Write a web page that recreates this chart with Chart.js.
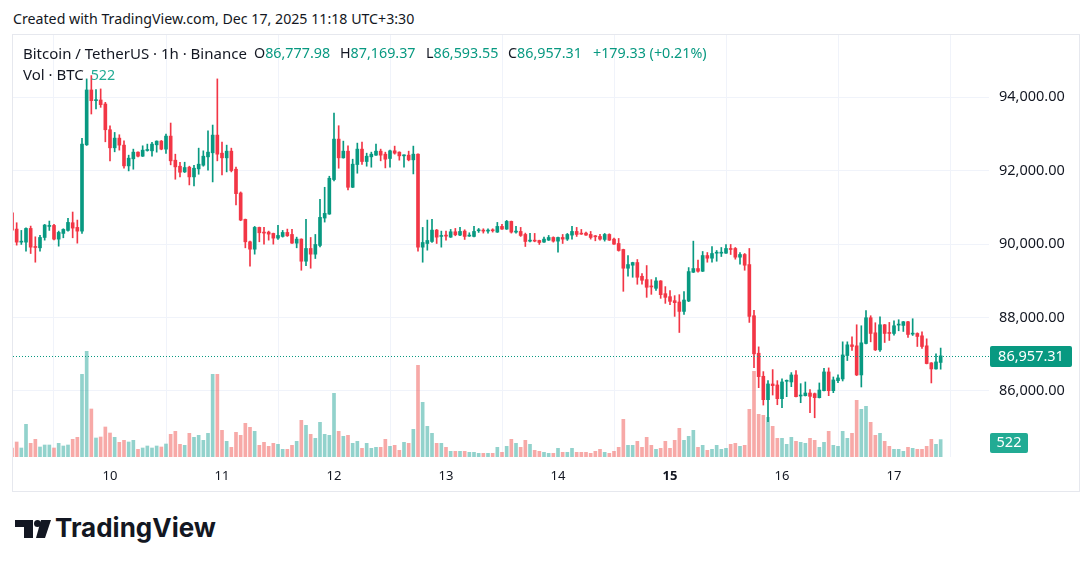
<!DOCTYPE html>
<html>
<head>
<meta charset="utf-8">
<script src="https://cdn.jsdelivr.net/npm/chart.js@4.4.0/dist/chart.umd.min.js"></script>
<style>
  body { margin:0; width:1092px; height:567px; background:#fff; position:relative; overflow:hidden;
         font-family:"Noto Sans", sans-serif; color:#131722; }
  #head { position:absolute; left:13px; top:9px; font-size:14.2px; white-space:nowrap; color:#131722; }
  #box { position:absolute; left:12px; top:34px; width:1066px; height:456px; border:1px solid #e6e8ee; }
  #box canvas { position:absolute; left:0; top:0; }
  .lg { position:absolute; font-size:14.3px; line-height:18px; white-space:nowrap; z-index:2; }
  .v { color:#089981; }
  #logo { position:absolute; left:15px; top:514px; height:32px; }
  #logo span { position:absolute; left:40px; top:-2px; font-family:Inter, sans-serif; font-weight:700;
               font-size:26px; letter-spacing:0px; color:#131722; }
</style>
</head>
<body>
<div id="head">Created with TradingView.com, Dec 17, 2025 11:18 UTC+3:30</div>
<div id="box"><canvas id="myChart" width="1066" height="456"></canvas></div>
<div class="lg" style="left:23px;top:44px;font-size:15px">Bitcoin / TetherUS · 1h · Binance</div>
<div class="lg" style="left:254px;top:44px">O<span class="v">86,777.98</span></div>
<div class="lg" style="left:340px;top:44px">H<span class="v">87,169.37</span></div>
<div class="lg" style="left:426px;top:44px">L<span class="v">86,593.55</span></div>
<div class="lg" style="left:508px;top:44px">C<span class="v">86,957.31</span></div>
<div class="lg v" style="left:593px;top:44px">+179.33 (+0.21%)</div>
<div class="lg" style="left:23px;top:65px;font-size:15px">Vol · BTC <span style="color:#22ab94;margin-left:3px;font-size:14.3px">522</span></div>
<div id="logo">
  <svg width="40" height="24" viewBox="0 0 40 24" style="position:absolute;left:0;top:6px">
    <rect x="0" y="0" width="18" height="7" fill="#131722"/>
    <rect x="9" y="0" width="9" height="18" fill="#131722"/>
    <circle cx="22.5" cy="3.5" r="3.5" fill="#131722"/>
    <polygon points="26,0 36,0 30,18 21,18" fill="#131722"/>
  </svg>
  <span>TradingView</span>
</div>

<script>
// hourly candles, Dec 9 03:00 .. Dec 17 10:00 (index 21 = Dec 10 00:00)
var open = [
 90856,90410,90055,90055,90428,89918,89900,90182,90483,90510,
 90137,90292,90374,90583,90456,90355,92706,94200,93909,93927,
 93818,93116,92624,92888,92697,92132,92324,92506,92396,92551,
 92542,92706,92806,92588,92943,92287,92123,91968,92096,91832,
 92050,92150,92378,92488,92970,92478,92351,92533,92041,91394,
 90674,90064,89863,90456,90319,90328,90292,90164,90210,90319,
 90264,90027,90137,89535,89882,89727,89964,90711,90820,91759,
 92861,92351,92533,91549,92169,92588,92251,92378,92424,92533,
 92451,92333,92542,92506,92405,92424,92296,92451,89918,90018,
 90073,90383,90210,90228,90191,90337,90246,90355,90219,90210,
 90364,90374,90355,90383,90328,90483,90410,90620,90328,90346,
 90264,90082,90100,90100,90055,90109,90182,90082,90182,90137,
 90246,90346,90292,90301,90264,90219,90210,90128,90264,90137,
 90018,89854,89344,89426,89499,89125,89034,88852,88797,88998,
 88651,88569,88460,88424,88168,88451,89235,89335,89262,89690,
 89617,89754,89754,89754,89882,89882,89645,89718,89444,88050,
 87029,86401,85763,86191,86164,85791,86264,86246,86437,85863,
 85872,85945,85927,85818,86009,86519,86009,86282,86328,86966,
 87257,87230,86437,87294,87995,87585,87120,87804,87585,87567,
 87795,87786,87886,87549,87567,87503,87230,86765,86601,86777.98
];
var high = [
 90902,90583,90374,90446,90492,90200,90237,90538,90629,90538,
 90355,90419,90702,90875,90656,92879,94501,94592,94210,94228,
 93863,93226,93043,92980,92814,92424,92588,92515,92679,92725,
 92770,92814,92825,92998,93299,92451,92232,92232,92123,92150,
 92615,92542,93089,93244,94501,92779,92697,92615,92096,91422,
 90684,90082,90483,90465,90456,90355,90301,90510,90374,90410,
 90401,90191,90146,90674,90182,90264,91221,91549,91850,93572,
 93226,92806,92679,92314,92752,92779,92478,92506,92725,92588,
 92506,92561,92670,92515,92433,92533,92670,92460,90456,90656,
 90674,90401,90355,90355,90401,90428,90456,90392,90310,90483,
 90428,90419,90419,90419,90592,90538,90647,90629,90483,90456,
 90301,90292,90292,90109,90191,90237,90200,90191,90264,90292,
 90483,90456,90401,90328,90346,90237,90264,90292,90282,90164,
 90155,89863,89690,89508,89581,89198,89417,89034,89089,89007,
 88843,88733,88597,88624,88706,89362,90082,89563,89800,89772,
 89936,89827,89909,89991,89991,89909,89772,89745,89882,88196,
 87202,86528,86282,86583,86282,86328,86301,86501,86556,86200,
 86246,86036,85945,86219,86619,86629,86382,86437,87339,87339,
 87476,87804,87777,88187,88050,87859,88023,87813,87868,87913,
 87941,87895,87895,87968,87585,87613,87421,86774,87011,87169.37
];
var low = [
 90355,89973,89991,89809,89745,89508,89809,90109,90374,90118,
 89945,90173,90355,90173,90027,90292,92688,93545,93681,93727,
 92788,92269,92515,92561,92068,91995,92041,92378,92387,92533,
 92396,92506,92570,92469,92160,91768,91832,91950,91613,91586,
 91904,92123,92014,91695,92269,91886,91968,91968,91066,90638,
 89900,89399,89727,90064,90000,90109,90000,90128,90191,90210,
 90018,89900,89289,89417,89344,89608,89927,90601,90811,91722,
 92068,92342,91476,91540,91932,92169,92123,92096,92415,92269,
 92077,92096,92451,92287,92096,92269,91913,89809,89508,89836,
 90045,90018,89918,90109,90182,90228,90228,90128,90210,90200,
 90319,90301,90301,90328,90319,90401,90401,90301,90301,90210,
 89936,90064,90064,89991,90045,90100,90055,89781,90018,90100,
 90137,90210,90264,90237,90137,90091,90109,90082,90100,89991,
 89809,88715,89125,89098,88907,88907,88551,88633,88742,88524,
 88387,88351,88032,87594,88086,88433,89226,89235,89253,89508,
 89508,89535,89663,89745,89718,89590,89453,89289,87868,86638,
 86091,85617,85162,85890,85626,85544,85845,86118,85836,85681,
 85863,85407,85271,85809,86000,85872,85954,86228,86273,86829,
 87102,86419,86109,87285,87339,87102,87075,87321,87376,87521,
 87640,87622,87458,87512,87212,87157,86738,86219,86592,86593.55
];
var close = [
 90383,90055,90082,90428,89918,89909,90182,90520,90510,90137,
 90319,90401,90592,90437,90355,92725,94200,93909,93936,93800,
 93116,92624,92888,92697,92132,92342,92506,92396,92561,92570,
 92725,92806,92588,92943,92269,92105,91959,92087,91832,92068,
 92178,92396,92506,92970,92451,92351,92533,92005,91376,90656,
 90064,89863,90456,90310,90301,90273,90164,90237,90319,90228,
 90027,90137,89535,89882,89727,89991,90729,90838,91795,92861,
 92351,92533,91549,92178,92588,92251,92396,92451,92533,92424,
 92314,92542,92478,92405,92424,92296,92451,89918,90045,90100,
 90383,90191,90228,90219,90337,90255,90346,90210,90228,90346,
 90383,90355,90374,90364,90483,90410,90620,90328,90346,90237,
 90073,90100,90082,90045,90137,90182,90082,90182,90137,90264,
 90346,90264,90273,90246,90182,90200,90137,90264,90109,90000,
 89827,89344,89444,89499,89098,89016,88825,88834,88998,88624,
 88551,88442,88405,88168,88478,89253,89335,89262,89690,89617,
 89745,89772,89772,89882,89854,89645,89718,89426,88032,87011,
 86391,85763,86191,86146,85791,86246,86282,86437,85845,85881,
 85945,85854,85818,86027,86519,86009,86301,86355,86982,87257,
 87212,86437,87312,87995,87567,87120,87804,87567,87567,87777,
 87813,87886,87540,87567,87485,87212,86747,86601,86792,86957.31
];
var volume = [
 270,450,270,980,410,530,300,360,360,270,
 410,330,360,530,590,2480,3170,1440,570,600,
 900,720,590,440,500,450,500,230,270,330,
 270,330,300,390,680,770,380,350,710,590,
 650,500,710,2480,2480,800,470,290,740,650,
 1010,890,770,350,440,320,410,380,230,230,
 350,470,1100,950,680,560,1040,680,650,1910,
 770,620,650,410,470,260,410,260,290,290,
 530,320,350,200,440,410,830,2750,1640,920,
 710,410,410,290,170,170,170,170,140,140,
 110,110,110,110,290,140,320,530,410,290,
 500,380,200,170,140,110,110,260,140,140,
 260,140,140,140,110,170,230,140,110,170,
 290,1130,350,350,470,290,590,350,230,260,
 470,260,500,860,500,620,800,290,350,200,
 230,350,230,260,380,410,320,350,1430,2570,
 1280,1250,1190,920,560,560,380,590,470,440,
 410,560,500,290,440,770,350,320,770,560,
 710,1700,1430,1520,1040,650,710,470,320,230,
 230,170,290,260,230,230,320,530,380,522
];
var dayTicks = [21, 45, 69, 93, 117, 141, 165, 189];
var dayLabels = ['10', '11', '12', '13', '14', '15', '16', '17'];
var priceTicks = [86000, 88000, 90000, 92000, 94000];

var UP = '#089981', DOWN = '#f23645';
var UP_VOL = 'rgba(38,166,154,0.5)', DOWN_VOL = 'rgba(239,83,80,0.5)';
var FONT = '"Noto Sans", sans-serif';

var bodies = [], wicks = [], vols = [], candleCol = [], volCol = [];
for (var i = 0; i < close.length; i++) {
  var up = close[i] >= open[i];
  bodies.push({x: i, y: [open[i], close[i]]});
  wicks.push({x: i, y: [low[i], high[i]]});
  vols.push({x: i, y: volume[i]});
  candleCol.push(up ? UP : DOWN);
  volCol.push(up ? UP_VOL : DOWN_VOL);
}
var last = close.length - 1;

function fmt(v) {
  return v.toLocaleString('en-US', {minimumFractionDigits: 2, maximumFractionDigits: 2});
}

// dotted last-price line + axis badges
var lastPrice = {
  id: 'lastPrice',
  afterDatasetsDraw: function(chart) {
    var c = chart.ctx, a = chart.chartArea;
    var y = Math.round(chart.scales.y.getPixelForValue(close[last])) + 0.5;
    c.save();
    c.strokeStyle = UP; c.lineWidth = 1; c.setLineDash([1, 2]);
    c.beginPath(); c.moveTo(a.left, y); c.lineTo(a.right, y); c.stroke();
    c.restore();
  },
  afterDraw: function(chart) {
    var c = chart.ctx, a = chart.chartArea;
    var y = chart.scales.y.getPixelForValue(close[last]);
    var yv = chart.scales.v.getPixelForValue(volume[last]);
    c.save();
    c.fillStyle = UP;
    c.beginPath(); c.roundRect(a.right + 1, Math.round(y) - 10, 82, 21, 2); c.fill();
    c.fillStyle = '#22ab94';
    c.beginPath(); c.roundRect(a.right + 1, Math.round(yv) - 7, 38, 20, 2); c.fill();
    c.fillStyle = '#fff'; c.font = '14.5px ' + FONT;
    c.textAlign = 'center'; c.textBaseline = 'middle';
    c.fillText(fmt(close[last]), a.right + 42, Math.round(y) + 1);
    c.fillText(String(volume[last]), a.right + 20, Math.round(yv) + 3);
    c.restore();
  }
};

new Chart(document.getElementById('myChart').getContext('2d'), {
  type: 'bar',
  data: {
    datasets: [
      {data: bodies, backgroundColor: candleCol, barThickness: 3, minBarLength: 1, order: 1},
      {data: wicks, backgroundColor: candleCol, barThickness: 1, order: 2},
      {data: vols, backgroundColor: volCol, barThickness: 3, yAxisID: 'v', order: 3}
    ]
  },
  options: {
    responsive: false,
    animation: false,
    layout: {padding: 0},
    datasets: {bar: {grouped: false, borderWidth: 0}},
    plugins: {legend: {display: false}, tooltip: {enabled: false}},
    scales: {
      x: {
        type: 'linear', offset: false, min: 0.2143, max: 209.357,
        grid: {color: '#f0f3fa', drawTicks: false},
        border: {display: false},
        afterBuildTicks: function(s) { s.ticks = dayTicks.map(function(v) { return {value: v}; }); },
        afterFit: function(s) { s.height = 34; s.paddingLeft = 0; s.paddingRight = 0; },
        ticks: {
          padding: 11, color: '#131722', maxRotation: 0, autoSkip: false,
          font: function(ctx) {
            var bold = ctx.tick && ctx.tick.value === 141;
            return {family: FONT, size: 13, weight: bold ? 'bold' : 'normal'};
          },
          callback: function(v) { return dayLabels[dayTicks.indexOf(v)]; }
        }
      },
      y: {
        position: 'right', min: 84202, max: 95697,
        grid: {color: '#f0f3fa', drawTicks: false},
        border: {display: false},
        afterBuildTicks: function(s) { s.ticks = priceTicks.map(function(v) { return {value: v}; }); },
        afterFit: function(s) { s.width = 90; s.paddingTop = 0; s.paddingBottom = 0; },
        ticks: {padding: 10, color: '#131722', font: {family: FONT, size: 14.5}, callback: function(v) { return fmt(v); }}
      },
      v: {display: false, min: 0, max: 12660}
    }
  },
  plugins: [lastPrice]
});
</script>
</body>
</html>
